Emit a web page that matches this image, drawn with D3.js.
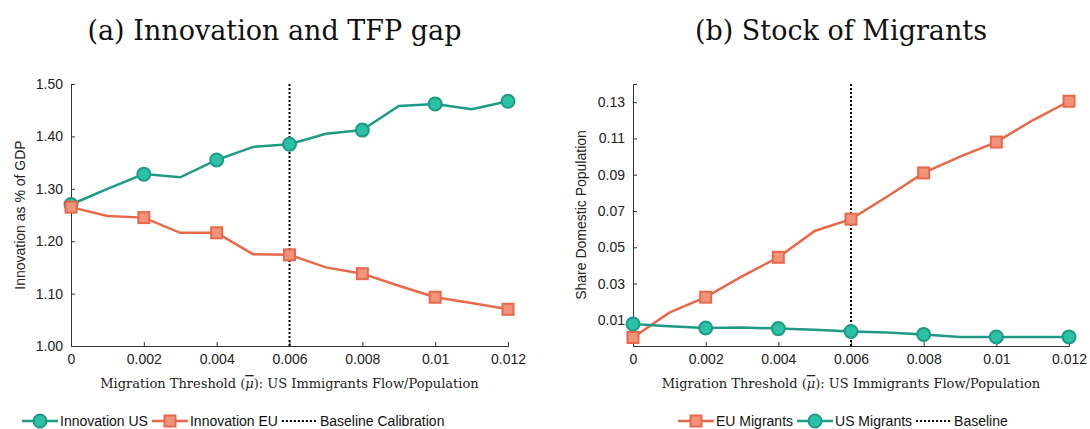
<!DOCTYPE html>
<html><head><meta charset="utf-8">
<script src="https://cdn.jsdelivr.net/npm/d3@7"></script>
<style>body{margin:0;background:#fff}text{font-family:"Liberation Sans",Arial,sans-serif}</style>
</head><body><svg width="1090" height="429"></svg>
<script>
// data
var xs = [0,0.001,0.002,0.003,0.004,0.005,0.006,0.007,0.008,0.009,0.01,0.011,0.012];
var innovUS = [1.27,1.30,1.328,1.322,1.355,1.38,1.385,1.405,1.412,1.458,1.462,1.452,1.467];
var innovEU = [1.265,1.248,1.245,1.216,1.216,1.175,1.174,1.15,1.138,1.115,1.093,1.082,1.07];
var migEU = [0.0003,0.014,0.0225,0.034,0.0445,0.059,0.0655,0.078,0.091,0.1,0.108,0.12,0.1305];
var migUS = [0.0077,0.0065,0.0055,0.0058,0.0052,0.0045,0.0036,0.003,0.002,0.0006,0.0006,0.0006,0.0006];
var xTicks = [0,0.002,0.004,0.006,0.008,0.01,0.012];
var leftTicks = [1.0,1.1,1.2,1.3,1.4,1.5];
var rightTicks = [0.01,0.03,0.05,0.07,0.09,0.11,0.13];
var baseline = 0.006;

var teal = '#1f9a85', tealFill = '#2cc0a5', orange = '#e8694a', orangeFill = '#f0937b';
var serif = '"DejaVu Serif","Liberation Serif",serif';
var svg = d3.select('svg');

function panel(opt) {
  var x = d3.scaleLinear().domain([0,0.012]).range([opt.x0, opt.x1]);
  var y = d3.scaleLinear().domain(opt.ydom).range([346, 84]);
  var g = svg.append('g');
  var xa = g.append('g').attr('transform','translate(0,346)')
    .call(d3.axisBottom(x).tickValues(xTicks).tickSize(-4).tickFormat(d => d === 0 ? '0' : String(+d.toFixed(3))));
  var ya = g.append('g').attr('transform','translate(' + opt.x0 + ',0)')
    .call(d3.axisLeft(y).tickValues(opt.yticks).tickSize(-4).tickFormat(opt.yfmt));
  g.selectAll('.domain').attr('stroke','#333');
  g.selectAll('.tick line').attr('stroke','#333');
  g.selectAll('.tick text').attr('font-size',14).attr('fill','#222').style('font-family','"Liberation Sans",Arial,sans-serif');
  xa.selectAll('.tick text').attr('dy','1.1em');
  ya.selectAll('.tick text').attr('x',-8);
  g.append('line').attr('x1',x(baseline)).attr('x2',x(baseline)).attr('y1',84).attr('y2',346)
    .attr('stroke','#000').attr('stroke-width',2).attr('stroke-dasharray','2,2');
  opt.series.forEach(function(s){
    var line = d3.line().x((d,i) => x(xs[i])).y(d => y(d));
    g.append('path').datum(s.v).attr('d', line).attr('fill','none').attr('stroke', s.c).attr('stroke-width',2.5);
    var pts = s.v.map((d,i) => [xs[i], d]).filter((d,i) => i % 2 === 0);
    if (s.shape === 'circle') {
      g.selectAll(null).data(pts).enter().append('circle')
        .attr('cx', d => x(d[0])).attr('cy', d => y(d[1])).attr('r',6.5)
        .attr('fill', s.f).attr('stroke', s.c).attr('stroke-width',2);
    } else {
      g.selectAll(null).data(pts).enter().append('rect')
        .attr('x', d => x(d[0]) - 5.5).attr('y', d => y(d[1]) - 5.5).attr('width',11).attr('height',11)
        .attr('fill', s.f).attr('stroke', s.c).attr('stroke-width',2);
    }
  });
  svg.append('text').attr('x',(opt.x0+opt.x1)/2 + opt.tdx).attr('y',40).attr('text-anchor','middle')
    .style('font-family',serif).attr('font-size',27).attr('fill','#111').text(opt.title);
  var xl = svg.append('text').attr('x',(opt.x0+opt.x1)/2).attr('y',388).attr('text-anchor','middle')
    .style('font-family',serif).attr('font-size',13).attr('fill','#222');
  xl.append('tspan').text('Migration Threshold (');
  xl.append('tspan').style('font-style','italic').style('text-decoration','overline').text('\u03bc');
  xl.append('tspan').text('): US Immigrants Flow/Population');
  svg.append('text').attr('transform','translate(' + opt.ylx + ',215) rotate(-90)').attr('text-anchor','middle')
    .attr('font-size',14).attr('fill','#222').text(opt.ylabel);
  // legend
  var lx = opt.legx;
  opt.legend.forEach(function(l){
    var lg = svg.append('g').attr('transform','translate(' + lx + ',421)');
    if (l.shape === 'dot') {
      lg.append('line').attr('x1',0).attr('x2',36).attr('stroke','#000').attr('stroke-width',2).attr('stroke-dasharray','2,2');
    } else {
      lg.append('line').attr('x1',0).attr('x2',36).attr('stroke',l.c).attr('stroke-width',2.5);
      if (l.shape === 'circle') lg.append('circle').attr('cx',18).attr('r',6.5).attr('fill',l.f).attr('stroke',l.c).attr('stroke-width',2);
      else lg.append('rect').attr('x',12.5).attr('y',-5.5).attr('width',11).attr('height',11).attr('fill',l.f).attr('stroke',l.c).attr('stroke-width',2);
    }
    var t = lg.append('text').attr('x',38).attr('dy','0.35em').attr('font-size',14).attr('fill','#111').text(l.t);
    lx += 38 + t.node().getComputedTextLength() + 4;
  });
}

panel({x0:71, x1:508, ydom:[1.0,1.5], yticks:leftTicks, yfmt:d3.format('.2f'), ylx:25,
  title:'(a) Innovation and TFP gap', tdx:-15, ylabel:'Innovation as % of GDP',
  series:[{v:innovUS,c:teal,f:tealFill,shape:'circle'},{v:innovEU,c:orange,f:orangeFill,shape:'rect'}],
  legx:22, legend:[{t:'Innovation US',c:teal,f:tealFill,shape:'circle'},{t:'Innovation EU',c:orange,f:orangeFill,shape:'rect'},{t:'Baseline Calibration',shape:'dot'}]});
panel({x0:633, x1:1069, ydom:[-0.0044,0.14], yticks:rightTicks, yfmt:d3.format('.2f'), ylx:586,
  title:'(b) Stock of Migrants', tdx:-10, ylabel:'Share Domestic Population',
  series:[{v:migEU,c:orange,f:orangeFill,shape:'rect'},{v:migUS,c:teal,f:tealFill,shape:'circle'}],
  legx:678, legend:[{t:'EU Migrants',c:orange,f:orangeFill,shape:'rect'},{t:'US Migrants',c:teal,f:tealFill,shape:'circle'},{t:'Baseline',shape:'dot'}]});
</script></body></html>
